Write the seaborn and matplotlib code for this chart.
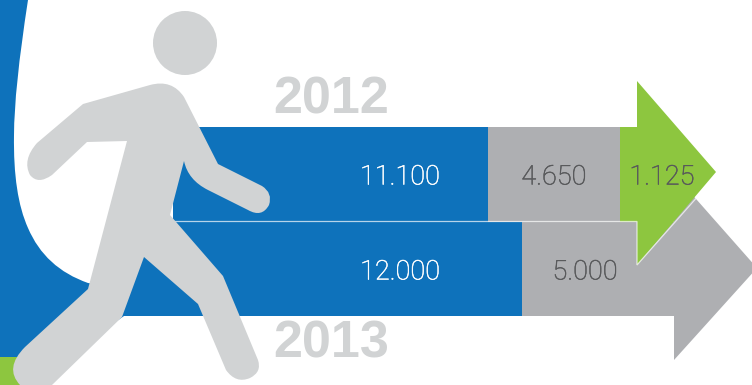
import matplotlib
matplotlib.use("Agg")
import matplotlib.pyplot as plt
import matplotlib.patheffects as pe
from matplotlib.patches import Circle, PathPatch, Polygon, Rectangle
from matplotlib.path import Path
import seaborn as sns

# Headcount per year, stacked left to right
years = ["2012", "2013"]
blue_values = [11100, 12000]
grey_values = [4650, 5000]
green_values = [1125]

BLUE = "#0E72BB"
GREY = "#AEAFB2"
GREEN = "#8DC63F"
FIGURE = "#D1D3D4"
DARK = "#58595B"

W, H = 752, 385
sns.set_theme(style="white")
plt.rcParams["font.family"] = ["Liberation Sans", "DejaVu Sans"]

fig = plt.figure(figsize=(W / 100, H / 100), dpi=100)


def pixel_axes(zorder):
    ax = fig.add_axes([0, 0, 1, 1], zorder=zorder)
    ax.set_xlim(0, W)
    ax.set_ylim(H, 0)
    ax.axis("off")
    ax.patch.set_alpha(0)
    return ax


def curved(points):
    """Build a closed path; a point tagged 'c' is a quadratic control point."""
    verts, codes = [], []
    pending_end = False
    for i, p in enumerate(points):
        verts.append(p[:2])
        if i == 0:
            codes.append(Path.MOVETO)
        elif len(p) == 3:
            codes.append(Path.CURVE3)
            pending_end = True
        elif pending_end:
            codes.append(Path.CURVE3)
            pending_end = False
        else:
            codes.append(Path.LINETO)
    verts.append(verts[0])
    codes.append(Path.CLOSEPOLY)
    return Path(verts, codes)


def stacked_row(year, values, colors, left_px, px_per_unit, top_px, bottom_px, zorder):
    """One horizontal stacked bar, scaled in data units on its own axes."""
    total = sum(values)
    ax = fig.add_axes(
        [left_px / W, (H - bottom_px) / H, total * px_per_unit / W, (bottom_px - top_px) / H],
        zorder=zorder,
    )
    running = [sum(values[: i + 1]) for i in range(len(values))]
    for cumulative, color in reversed(list(zip(running, colors))):
        sns.barplot(x=[cumulative], y=[year], color=color, width=1, saturation=1,
                    linewidth=0, ax=ax)
    ax.set_xlim(0, total)
    ax.set_ylim(0.5, -0.5)
    ax.axis("off")
    ax.patch.set_alpha(0)


back = pixel_axes(0)
front = pixel_axes(5)

# Swoosh behind the walker
swoosh = [
    (0, 0), (28, 0), (14, 90, "c"), (14, 135), (13, 195, "c"), (28, 228),
    (45, 268, "c"), (88, 283), (124, 288), (124, 316), (90, 340), (20, 357), (0, 357),
]
back.add_patch(PathPatch(curved(swoosh), facecolor=BLUE, edgecolor="none"))
back.add_patch(Rectangle((0, 357), 26, 28, facecolor=GREEN, edgecolor="none"))

stacked_row(years[1], [blue_values[1], grey_values[1]], [BLUE, GREY], 124, 398 / 12000, 221.5, 316, 1)
stacked_row(years[0], [blue_values[0], grey_values[0], green_values[0]], [BLUE, GREY, GREEN],
            173.3, 0.02835, 127, 221.5, 2)

# Arrow head of the lower row
front.add_patch(Polygon([(674, 174), (757, 268), (674, 360)], facecolor=GREY, edgecolor="none", zorder=1))

# Arrow head of the upper row, with its light seam against the row below
front.add_patch(Polygon([(637, 81), (716, 172), (637, 265)], facecolor=GREEN, edgecolor="none", zorder=2))
front.plot([172, 637, 637, 699], [221.5, 221.5, 265, 195], color="white", lw=0.9, alpha=0.7,
           solid_joinstyle="miter", zorder=3)

# Walking figure
front.add_patch(Circle((185, 43), 32, facecolor=FIGURE, edgecolor="none", zorder=4))
body = [
    (83, 104), (150, 85), (172, 79, "c"), (184, 97), (218, 164), (262, 186),
    (273, 193, "c"), (269, 205), (262, 218, "c"), (248, 210), (208, 190),
    (188, 180, "c"), (184, 161), (170, 215), (223, 276), (258, 360),
    (262, 372, "c"), (250, 378), (236, 384, "c"), (226, 370), (198, 304),
    (144, 257), (122, 317), (52, 385), (20, 385), (4, 368, "c"), (25, 347),
    (88, 289), (127, 141), (87, 142), (52, 175), (38, 185, "c"), (30, 175),
    (22, 160, "c"), (37, 143),
]
front.add_patch(PathPatch(curved(body), facecolor=FIGURE, edgecolor="none", zorder=4))

# Year captions
for cy, year in zip((100.5, 344), years):
    front.text(331.5, cy, year, color=FIGURE, family=["Liberation Sans"], fontsize=37.5,
               fontweight="bold", ha="center", va="center", zorder=5)


def label(value):
    return f"{value:,}".replace(",", ".")


for x, y, value, color in [
    (400, 177, blue_values[0], "white"),
    (554, 177, grey_values[0], DARK),
    (662, 177, green_values[0], DARK),
    (400, 272, blue_values[1], "white"),
    (585, 272, grey_values[1], DARK),
]:
    t = front.text(x, y, label(value), color=color, family=["Roboto", "Liberation Sans"], fontsize=19.5,
                   fontweight="light", ha="center", va="center", zorder=6)
    t.set_path_effects([pe.withStroke(linewidth=0.35, foreground=color)])

fig.savefig("out.png", dpi=100)
